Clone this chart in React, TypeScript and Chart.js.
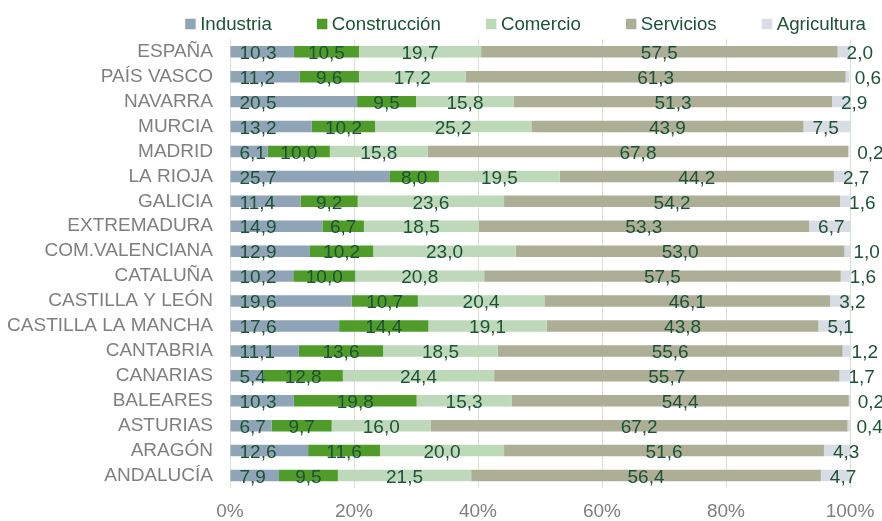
import React, { useEffect, useRef } from "react";
import { Chart, registerables } from "chart.js";

Chart.register(...registerables);

const categories = [
  "ESPAÑA", "PAÍS VASCO", "NAVARRA", "MURCIA", "MADRID", "LA RIOJA", "GALICIA",
  "EXTREMADURA", "COM.VALENCIANA", "CATALUÑA", "CASTILLA Y LEÓN", "CASTILLA LA MANCHA",
  "CANTABRIA", "CANARIAS", "BALEARES", "ASTURIAS", "ARAGÓN", "ANDALUCÍA",
];

const industria = [10.3, 11.2, 20.5, 13.2, 6.1, 25.7, 11.4, 14.9, 12.9, 10.2, 19.6, 17.6, 11.1, 5.4, 10.3, 6.7, 12.6, 7.9];
const construccion = [10.5, 9.6, 9.5, 10.2, 10.0, 8.0, 9.2, 6.7, 10.2, 10.0, 10.7, 14.4, 13.6, 12.8, 19.8, 9.7, 11.6, 9.5];
const comercio = [19.7, 17.2, 15.8, 25.2, 15.8, 19.5, 23.6, 18.5, 23.0, 20.8, 20.4, 19.1, 18.5, 24.4, 15.3, 16.0, 20.0, 21.5];
const servicios = [57.5, 61.3, 51.3, 43.9, 67.8, 44.2, 54.2, 53.3, 53.0, 57.5, 46.1, 43.8, 55.6, 55.7, 54.4, 67.2, 51.6, 56.4];
const agricultura = [2.0, 0.6, 2.9, 7.5, 0.2, 2.7, 1.6, 6.7, 1.0, 1.6, 3.2, 5.1, 1.2, 1.7, 0.2, 0.4, 4.3, 4.7];

const seriesNames = ["Industria", "Construcción", "Comercio", "Servicios", "Agricultura"];
const seriesColors = ["#8fa4b6", "#4f9c2a", "#bdd9b9", "#adae96", "#d8dde5"];
const xTicks = [0, 20, 40, 60, 80, 100];

const FONT = "'Liberation Sans', Arial, sans-serif";
const LABEL_COLOR = "#1d5236";
const AXIS_COLOR = "#7f7f7f";

const labelPlugin = {
  id: "segLabels",
  afterDatasetsDraw(chart: any) {
    const ctx = chart.ctx;
    ctx.save();
    ctx.font = `19px ${FONT}`;
    ctx.fillStyle = LABEL_COLOR;
    ctx.textBaseline = "middle";
    chart.data.datasets.forEach((ds: any, i: number) => {
      const meta = chart.getDatasetMeta(i);
      meta.data.forEach((el: any, j: number) => {
        const v = ds.data[j];
        const txt = v.toFixed(1).replace(".", ",");
        const start = Math.min(el.x, el.base);
        const end = Math.max(el.x, el.base);
        const y = el.y + 2;
        if (i === 0 || i === 4) {
          ctx.textAlign = "left";
          ctx.fillText(txt, start + 9, y);
        } else {
          ctx.textAlign = "center";
          ctx.fillText(txt, (start + end) / 2, y);
        }
      });
    });
    ctx.restore();
  },
};

const legendPlugin = {
  id: "topLegend",
  afterDraw(chart: any) {
    const ctx = chart.ctx;
    ctx.save();
    ctx.font = `18.7px ${FONT}`;
    ctx.textBaseline = "middle";
    ctx.textAlign = "left";
    const box = 10.5;
    const gapText = 4.5;
    const gapItem = 45;
    const items = chart.data.datasets.map((d: any) => ({
      label: d.label,
      color: d.backgroundColor,
      w: ctx.measureText(d.label).width,
    }));
    const total = items.reduce((s: number, it: any) => s + box + gapText + it.w, 0) + gapItem * (items.length - 1);
    let x = 866 - total;
    const cy = 24;
    items.forEach((it: any) => {
      ctx.fillStyle = it.color;
      ctx.fillRect(x, cy - box / 2, box, box);
      x += box + gapText;
      ctx.fillStyle = LABEL_COLOR;
      ctx.fillText(it.label, x, cy + 1);
      x += it.w + gapItem;
    });
    ctx.restore();
  },
};

export default function App() {
  const ref = useRef<HTMLCanvasElement>(null);
  useEffect(() => {
    document.body.style.margin = "0";
    const seriesData = [industria, construccion, comercio, servicios, agricultura];
    const chart = new Chart(ref.current!, {
      type: "bar",
      data: {
        labels: categories,
        datasets: seriesNames.map((n, i) => ({
          label: n,
          data: seriesData[i],
          backgroundColor: seriesColors[i],
          borderWidth: 0,
          barPercentage: 0.46,
          categoryPercentage: 1,
        })),
      },
      options: {
        indexAxis: "y",
        animation: false,
        responsive: false,
        maintainAspectRatio: false,
        layout: { padding: { left: 0, right: 32, top: 39.3, bottom: 0 } },
        plugins: {
          tooltip: { enabled: false },
          legend: { display: false },
        },
        scales: {
          x: {
            stacked: true,
            min: 0,
            max: 100,
            afterBuildTicks: (scale: any) => {
              scale.ticks = xTicks.map((v) => ({ value: v }));
            },
            afterFit: (scale: any) => {
              scale.height = 33;
              scale.paddingRight = 0;
              scale.paddingLeft = 0;
            },
            ticks: {
              color: AXIS_COLOR,
              font: { size: 19, family: FONT },
              padding: 12,
              callback: (v: any) => v + "%",
            },
            grid: { color: "#d3e6cd", drawTicks: false, lineWidth: 1 },
            border: { display: false },
          },
          y: {
            stacked: true,
            afterFit: (scale: any) => {
              scale.width = 230;
            },
            ticks: {
              autoSkip: false,
              color: AXIS_COLOR,
              font: { size: 19, family: FONT },
              padding: 17,
            },
            grid: { display: false, drawTicks: false },
            border: { display: false },
          },
        },
      },
      plugins: [labelPlugin, legendPlugin],
    });
    return () => chart.destroy();
  }, []);
  return (
    <div style={{ width: 882, height: 521 }}>
      <canvas ref={ref} width={882} height={521} style={{ display: "block" }} />
    </div>
  );
}
